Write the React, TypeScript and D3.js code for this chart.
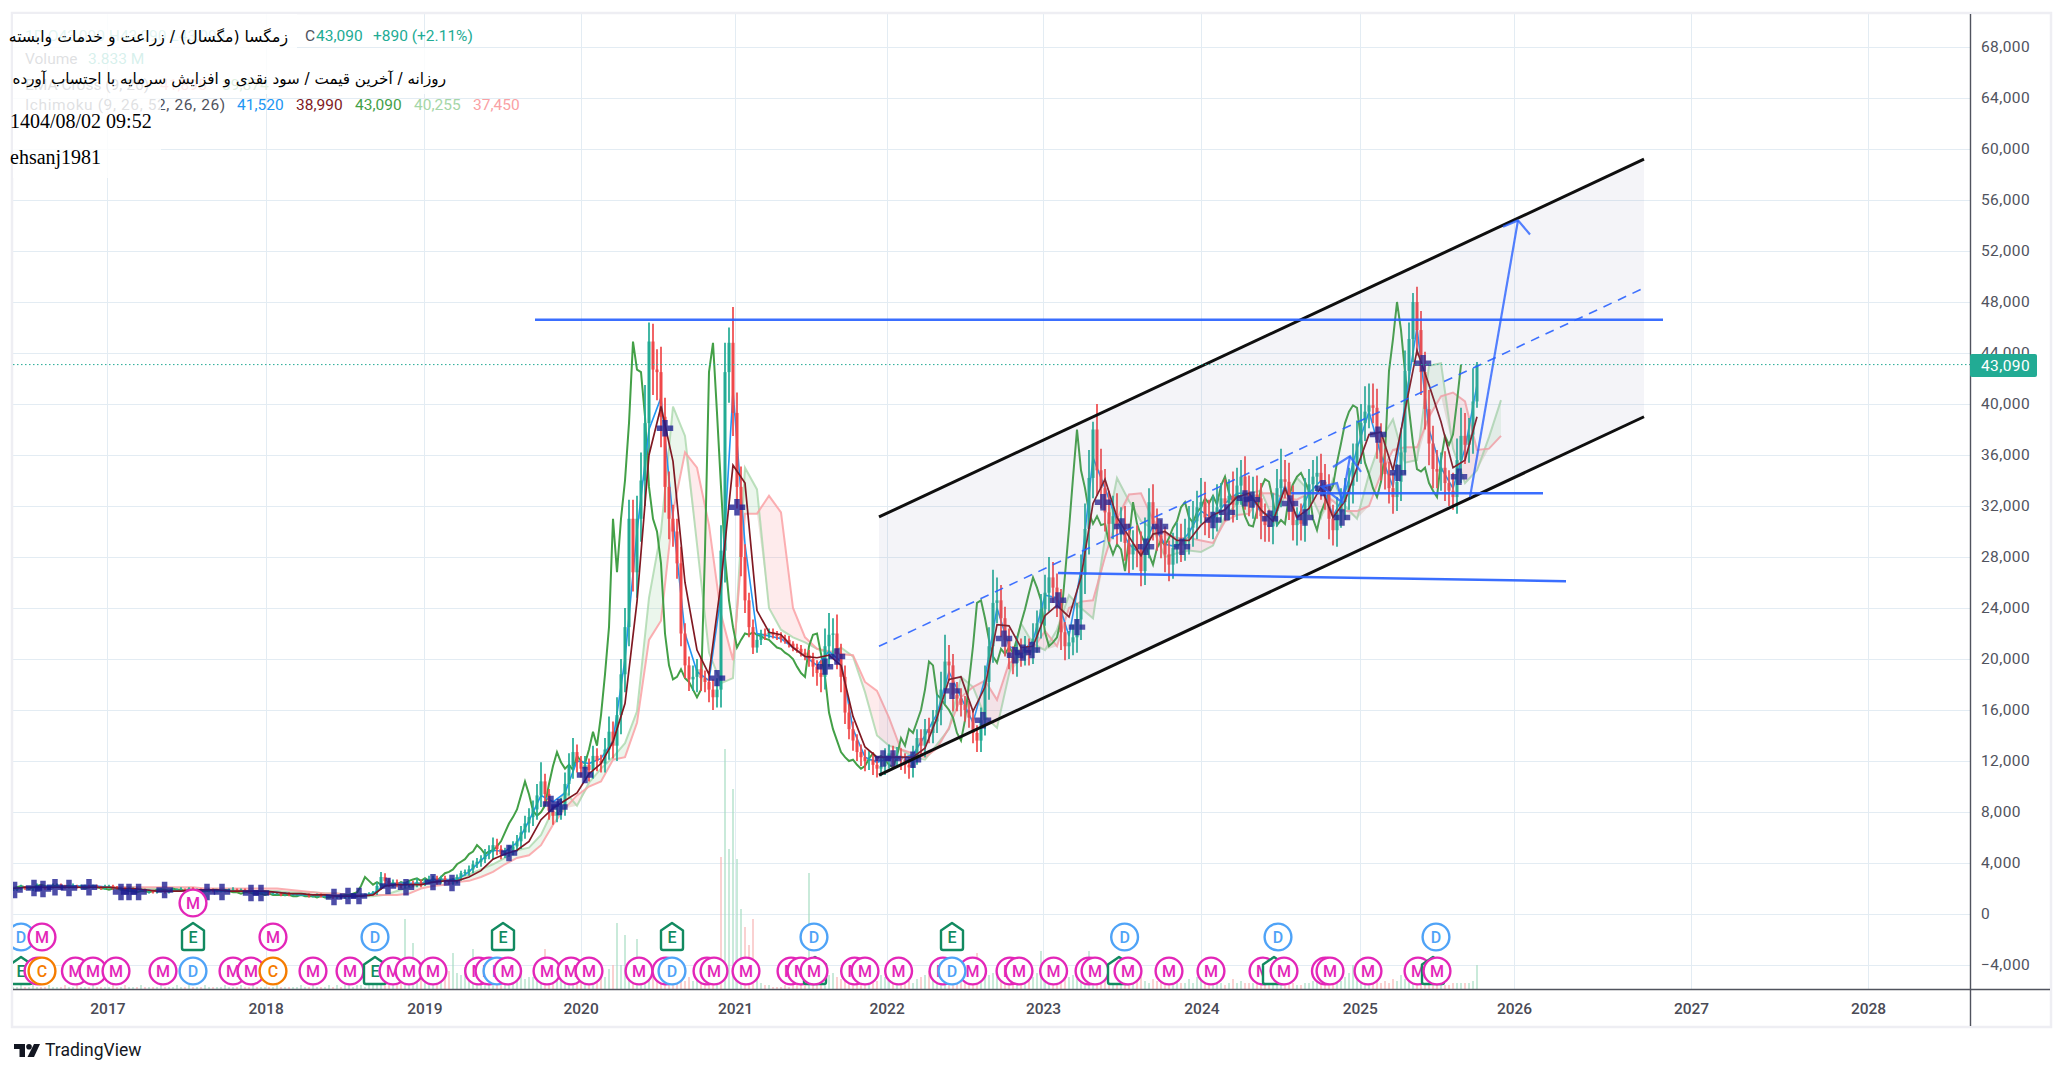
import { useEffect, useRef } from 'react';
import * as d3 from 'd3';

// prices are in thousands of rials, one bar is about 6 sessions
const closes = [
  1.9,2.0,2.1,2.0,2.0,2.1,2.2,2.1,2.0,2.1,
  2.2,2.3,2.2,2.1,2.2,2.2,2.1,2.2,2.2,2.1,
  2.2,2.1,2.0,2.1,2.2,2.1,2.0,2.0,1.9,2.0,
  2.0,1.9,1.9,1.8,1.8,1.7,1.8,1.8,1.7,1.8,
  1.9,1.9,1.9,1.8,2.0,1.9,1.9,1.8,1.8,1.9,
  1.8,1.8,1.8,1.8,1.9,1.9,1.8,1.9,1.8,1.7,
  1.7,1.6,1.7,1.7,1.6,1.6,1.6,1.5,1.6,1.5,
  1.5,1.5,1.5,1.5,1.4,1.4,1.5,1.4,1.4,1.4,
  1.3,1.4,1.3,1.3,1.4,1.4,1.4,1.5,1.5,1.6,
  1.7,2.2,2.9,2.6,2.3,2.5,2.3,2.2,2.3,2.4,
  2.3,2.5,2.4,2.6,2.7,2.8,2.6,2.8,2.6,2.5,
  2.6,2.9,3.2,3.3,3.5,3.9,4.1,4.3,4.7,4.9,
  5.4,5.1,4.7,4.9,5.0,5.3,5.7,6.4,7.1,7.6,
  8.2,9.3,10.4,9.4,8.1,7.7,8.0,8.5,10.2,11.6,
  12.7,11.9,11.4,11.7,11.3,12.4,12.0,11.8,12.9,14.3,
  13.2,15.6,18.8,22.5,31.0,26.8,31.0,34.0,38.5,44.9,
  42.7,42.5,39.0,33.5,31.0,30.0,27.5,22.0,19.5,18.4,
  18.6,19.2,18.5,18.2,17.6,17.0,17.6,28.5,42.5,44.8,
  39.3,33.5,28.0,24.6,22.5,20.9,21.5,22.0,21.9,22.1,
  21.9,21.8,21.6,21.5,21.2,20.9,20.8,20.5,20.3,20.0,
  19.4,18.9,18.6,21.0,21.9,22.0,20.4,18.6,15.8,14.5,
  13.6,12.7,12.3,12.0,12.1,11.7,11.4,11.6,12.2,12.6,
  12.2,12.4,12.1,11.7,11.5,12.4,13.8,13.2,14.5,14.2,
  15.1,16.0,17.6,19.8,19.5,17.2,16.9,16.4,16.0,15.4,
  14.2,13.6,15.2,18.2,21.0,24.4,24.6,23.2,21.5,20.2,
  19.7,20.8,20.4,20.9,20.5,21.6,22.8,23.9,25.2,26.4,
  25.6,24.6,22.1,21.0,21.3,21.7,23.1,26.6,30.2,34.2,
  38.0,34.8,33.4,31.5,30.6,31.2,30.5,30.6,29.1,28.2,
  29.0,28.6,26.9,29.4,32.3,30.6,29.7,29.1,28.2,27.4,
  28.7,29.3,28.9,29.5,30.3,30.8,31.9,32.3,31.1,30.7,
  31.5,31.9,32.6,32.2,32.8,32.1,33.6,34.3,33.0,32.4,
  32.9,32.6,31.2,30.5,30.4,31.6,33.4,34.1,33.9,32.4,
  30.5,30.9,30.6,32.8,33.7,34.3,34.6,33.9,33.2,31.0,
  30.1,31.5,32.3,33.0,33.6,35.4,36.9,38.5,39.4,39.9,
  39.7,37.2,35.4,34.5,33.4,32.7,33.9,36.2,42.6,45.1,
  48.0,45.8,42.5,39.6,36.9,34.9,34.7,35.0,33.8,33.2,
  32.7,35.6,37.5,36.8,37.6,40.2,43.09,
];

const wickUp = [
  .1,.1,.2,.1,.1,.1,.2,.1,.1,.1,
  .2,.1,.1,.1,.1,.2,.1,.1,.1,.1,
  .1,.1,.1,.2,.1,.1,.1,.1,.1,.1,
  .1,.1,.1,.1,.1,.1,.1,.2,.1,.1,
  .1,.1,.2,.1,.1,.1,.1,.1,.1,.1,
  .1,.1,.1,.1,.1,.2,.1,.1,.1,.1,
  .1,.1,.1,.1,.1,.1,.1,.1,.1,.1,
  .1,.1,.1,.1,.1,.1,.1,.1,.1,.1,
  .1,.1,.1,.1,.1,.1,.1,.1,.1,.1,
  .1,.3,.4,.3,.2,.2,.2,.1,.2,.2,
  .2,.3,.2,.2,.3,.2,.2,.2,.2,.1,
  .2,.2,.2,.2,.3,.3,.3,.3,.4,.5,
  .6,.5,.3,.3,.4,.4,.5,.5,.6,.7,
  .7,.9,1.5,.6,.4,.4,.5,.6,.9,1.0,
  1.1,.6,.5,.7,.5,.8,.6,.5,.9,1.2,
  .8,1.4,1.2,1.5,1.5,1.5,1.8,2.2,3.0,1.5,
  1.4,1.6,2.0,1.5,1.2,1.1,1.0,1.3,.8,.7,
  .9,.8,.9,.6,.8,.8,.9,2.0,2.3,1.2,
  2.8,1.6,1.6,1.0,.6,.6,.4,.3,.4,.3,
  .3,.3,.3,.3,.3,.2,.3,.3,.3,.4,
  .5,.5,1.0,1.4,1.7,1.2,1.5,.8,.9,.7,
  .6,.5,.6,.6,.7,.6,.6,.7,.8,.7,
  .6,.7,.6,.5,.6,.8,.7,.7,.8,.9,
  .9,1.2,1.4,2.1,1.3,.9,1.0,.8,.7,.7,
  .6,.6,1.0,1.3,1.5,2.6,1.8,1.2,.9,.9,
  .8,1.0,.8,.9,.7,1.2,1.0,1.2,1.4,1.6,
  1.2,1.1,.9,.8,.9,1.0,1.3,1.6,2.0,2.2,
  .6,2.0,1.7,1.5,1.7,1.6,1.8,1.3,1.4,1.5,
  1.1,1.5,1.4,1.7,1.1,1.4,1.2,1.2,1.3,1.1,
  1.2,1.4,1.3,1.5,1.7,1.6,1.3,1.9,1.6,1.4,
  1.3,1.8,1.2,1.5,1.3,1.9,1.4,1.3,1.6,1.4,
  1.4,1.5,1.2,1.0,1.2,1.4,1.5,2.4,1.5,1.5,
  1.2,1.0,1.3,1.4,1.2,1.3,1.3,1.5,1.4,1.3,
  1.1,1.2,1.1,1.2,1.4,1.5,1.8,1.5,2.0,1.7,
  1.7,1.5,1.3,1.1,1.0,1.2,1.4,1.9,1.6,1.3,
  .7,1.2,1.5,1.6,1.5,1.4,1.5,1.2,1.3,1.0,
  1.4,1.7,2.2,1.8,1.3,2.6,.2,
];

const wickDown = [
  .1,.1,.1,.1,.1,.2,.1,.1,.1,.1,
  .1,.1,.2,.1,.1,.1,.1,.1,.1,.1,
  .1,.1,.1,.1,.1,.2,.1,.1,.1,.1,
  .1,.1,.1,.1,.2,.1,.1,.1,.1,.1,
  .1,.1,.1,.1,.1,.1,.2,.1,.1,.1,
  .1,.1,.1,.1,.1,.1,.1,.1,.1,.1,
  .1,.1,.1,.1,.1,.1,.1,.1,.1,.1,
  .1,.1,.1,.1,.1,.1,.1,.1,.1,.1,
  .1,.1,.1,.1,.1,.1,.1,.1,.1,.1,
  .1,.2,.3,.3,.2,.2,.2,.2,.2,.2,
  .2,.2,.3,.2,.2,.2,.3,.2,.2,.2,
  .2,.2,.3,.2,.3,.3,.3,.4,.3,.4,
  .6,.5,.4,.3,.4,.4,.4,.6,.5,.7,
  .7,.8,.9,.8,.7,.7,.5,.6,.8,.9,
  1.0,.8,.7,.8,.9,.7,.8,.7,.7,.8,
  1.0,1.2,1.5,1.4,1.5,1.5,2.0,1.8,2.0,2.5,
  2.0,2.2,2.4,2.0,1.6,1.2,1.2,1.0,1.0,.9,
  .9,1.2,1.0,.8,1.0,1.0,.8,1.4,2.5,2.4,
  1.8,1.7,1.5,1.0,.8,.5,.4,.4,.4,.3,
  .3,.3,.3,.3,.3,.3,.3,.3,.4,.6,
  .8,1.0,1.2,1.0,1.6,1.8,1.2,1.2,.9,.8,
  .8,.7,.7,.8,.7,.8,.7,.6,.7,.8,
  .7,.7,.8,.7,.9,.8,.7,.8,.9,.8,
  .8,.9,1.2,1.1,1.2,1.3,1.0,.9,.9,.8,
  .8,.9,.9,1.2,1.4,1.3,1.6,1.5,1.3,1.0,
  .9,1.1,1.0,.9,1.0,.9,1.1,1.2,1.3,1.5,
  1.2,1.3,1.4,1.1,1.0,1.0,1.2,1.6,1.5,2.0,
  1.6,2.0,1.6,1.5,1.4,1.2,1.5,1.3,1.4,1.5,
  1.2,1.4,1.2,1.1,1.5,1.3,1.2,1.2,1.4,1.3,
  1.1,1.2,1.3,1.2,1.3,1.5,1.4,1.3,1.4,1.2,
  1.3,1.5,1.2,1.4,1.3,1.4,1.2,1.5,1.3,1.2,
  1.4,1.6,1.8,1.3,1.2,1.4,1.2,1.5,1.3,1.5,
  1.2,1.6,1.3,1.4,1.5,1.3,1.2,1.4,1.5,1.6,
  1.2,1.3,1.2,1.4,1.3,1.4,1.5,1.6,1.4,1.3,
  1.2,1.5,1.4,1.2,1.2,1.3,1.1,1.5,1.7,1.5,
  1.8,2.0,1.8,1.6,1.7,1.5,1.3,1.5,1.4,1.2,
  1.0,1.3,1.8,1.5,1.4,1.5,.5,
];

const volumes = [
  1,1,2,1,1,2,1,1,1,2,
  1,1,1,2,1,1,2,1,1,1,
  2,1,1,1,1,2,1,1,2,1,
  1,1,2,1,1,1,1,2,1,1,
  1,2,1,1,2,1,1,1,2,1,
  1,1,1,2,1,1,1,2,1,1,
  2,1,1,1,1,1,2,1,1,1,
  1,1,2,1,1,2,1,1,1,2,
  1,2,1,2,2,1,2,2,1,2,
  2,2,3,2,2,3,3,4,35,8,
  23,9,6,5,7,5,8,5,7,9,
  18,8,7,11,9,20,8,6,12,7,
  8,6,5,7,5,9,7,8,5,6,
  6,4,10,20,8,5,7,5,6,4,
  5,8,5,7,5,4,6,7,6,10,
  12,33,12,27,10,8,25,13,8,5,
  8,6,9,6,5,7,6,5,4,6,
  4,5,4,3,5,6,8,66,120,70,
  100,65,40,31,22,35,5,3,2,2,
  1,1,1,2,1,2,2,3,6,58,
  14,8,9,10,7,8,6,5,7,9,
  5,6,4,5,6,5,4,7,6,5,
  4,5,4,3,4,3,5,6,7,9,
  10,13,15,12,9,10,8,7,6,9,
  11,18,14,9,7,8,6,5,7,5,
  6,5,7,5,4,6,8,19,12,8,
  7,6,5,8,6,7,5,9,14,19,
  16,9,7,6,5,7,5,4,6,5,
  4,5,6,4,3,5,4,5,3,4,
  3,4,3,3,5,3,6,8,4,3,
  3,5,3,2,3,5,3,4,3,3,
  3,4,3,3,2,3,2,3,3,2,
  3,2,2,3,3,4,5,4,3,5,
  6,5,4,6,8,12,7,5,6,7,
  5,4,3,4,3,5,4,7,5,6,
  5,4,3,3,4,3,4,3,2,2,
  3,3,3,3,3,4,12,
];
// bars whose volume colour differs from the close-to-close direction
const volumeGreenBars = [100,180,181,182,199];
const volumeRedBars = [177,183,185];

// ichimoku lines, one value every 3 bars
const tenkan = [
  2.0,2.1,2.1,2.2,2.1,2.2,2.2,2.2,2.1,2.0,1.9,1.9,1.8,1.8,1.8,1.9,1.9,1.8,1.8,1.8,
  1.8,1.7,1.7,1.6,1.5,1.5,1.4,1.4,1.4,1.4,1.6,2.3,2.4,2.4,2.4,
  2.7,2.7,2.7,3.3,4.2,5.0,4.9,5.6,7.3,9.3,8.8,9.5,12.0,11.8,12.2,13.6,20,30,38,40.5,
  31,22,19,18.3,25,41,29,22,21.8,21.6,20.9,20.2,19.5,20.6,19.8,14.5,12.3,11.9,12.2,12.2,
  12.5,14,15.7,19,17,15,18.5,24,21,20.5,21.4,25,24.8,21.8,27,35.8,33.4,30.8,29,28.2,
  30.5,29,28.8,29.9,31.6,31,32.2,33,33,31.5,31.2,33.6,31,33,34,31.2,33,36.5,39.4,36,
  33.5,40,46,38,35,33.4,36.5,41.5,
];
const kijun = [
  2.0,2.1,2.1,2.1,2.1,2.1,2.1,2.1,2.1,2.0,2.0,1.9,1.8,1.8,1.8,1.9,1.9,1.9,1.8,1.8,
  1.8,1.8,1.7,1.6,1.6,1.5,1.5,1.4,1.4,1.4,1.5,2.2,2.3,2.3,2.3,
  2.5,2.6,2.6,2.9,3.4,4.3,4.7,5.0,5.7,7.4,8.3,8.9,9.5,11,11.8,13.5,16.5,24.5,36,39.8,
  35.5,26,20.7,18.8,26,35.2,33.8,23.8,22.1,21.9,20.9,20.2,20.1,20.3,19.5,15.5,13.1,12.3,12.3,12.3,
  12.3,13.0,15.4,18.4,18.6,15.9,17.8,22.7,22.6,20.9,21,23.4,24.2,23.3,26.4,32.2,34.1,31.1,29.6,28.1,
  29.8,30,29.3,29.3,30.5,31.3,31.7,32.7,33,31.7,30.8,33.4,31.1,31.8,33.5,31.1,32.4,35,37.6,37.8,
  34.8,39.5,44.2,41.5,38.6,35,35.6,39.0,
];
const spanA = [
  2.0,2.0,2.1,2.1,2.1,2.1,2.1,2.1,2.1,2.1,2.1,2.0,2.0,1.9,1.9,1.9,1.9,1.9,1.9,1.8,
  1.8,1.8,1.8,1.7,1.7,1.7,1.6,1.6,1.5,1.4,1.4,1.5,1.8,2.1,2.3,
  2.5,2.6,2.8,3.1,3.5,3.9,4.4,5.0,5.2,6.2,8.2,9.6,8.5,10.3,11.4,12.3,13.4,15.9,24.8,30,
  39.8,37.5,29,20.5,18.1,18.5,35,33.3,24,22.3,21.7,21.3,20.8,20.5,20.9,20.2,17.4,14,13.2,12.9,
  12.3,12.1,13.3,14.5,18.6,17.8,15.5,14.6,18.8,22.8,21.2,20.7,22.3,25.0,24.0,23.2,29.5,34.2,32.4,30.8,
  30.2,28.0,28.3,28.5,28.4,28.9,31.2,32.2,33.0,33.2,31.0,32.8,34.2,33.2,31.1,34.1,32,31,34.5,37.2,
  38.8,35.4,35.6,43,43.2,36.5,33.8,34.8,37.4,40.3,
];
const spanB = [
  2.1,2.1,2.1,2.1,2.1,2.1,2.1,2.1,2.1,2.1,2.1,2.1,2.1,2.1,2.1,2.1,2.0,2.0,2.0,2.0,
  2.0,2.0,2.0,1.9,1.8,1.7,1.6,1.6,1.5,1.5,1.5,1.5,1.5,1.6,2.0,
  2.2,2.3,2.5,2.6,2.9,3.3,3.9,4.4,4.6,5.4,7,8.3,9.3,10,10.4,12.1,12.3,15,21.5,23,
  31.5,36.2,35,30.5,23.5,19.9,31.4,31.4,32.8,31.5,24,21.7,20.8,20.6,20.4,20.3,18.2,17.5,15.4,12.9,
  12.6,12.3,13,14.6,17,17.8,18.3,16.8,19.7,20,20.8,22.2,21,24,24.5,24.6,28,31,32.9,33,
  30.9,29.8,29.5,29.5,29.3,29.1,30.8,31.3,31.4,33,33,32.6,32.5,33,33.1,32.4,31.6,31.6,32,34.5,
  36.4,36.6,36.6,39,40.6,40.9,40.2,36.4,36.5,37.5,
];
const indicatorStep = 3;
const chikouShift = 4;

// dark blue plus marks
const crossBars = [
  0.4,5.25,7.5,10.5,14,19,27,29,31.4,37.9,48.5,52.25,59.5,62,80.25,83.75,86.5,93.75,98.25,105,
  109.75,124,134.5,136.6,143,163,176,181,203,206,217.5,220,225,234.75,242.5,247.75,250.5,252.5,254.75,261.25,
  266,272.5,277.25,283.25,286.75,292.25,300,303.5,308,309.75,314.25,319.25,323,327.5,332.25,341.25,346.25,352.5,361.5,
];
const crossValues = [
  1.88,2.04,1.96,2.1,2.04,2.1,1.73,1.73,1.73,1.88,1.73,1.73,1.65,1.65,1.33,1.41,1.41,2.2,2.1,2.5,
  2.43,4.78,8.63,8.39,10.9,38.1,18.5,31.9,19.4,20.2,12.2,12.2,12.1,17.5,15.2,21.6,20.3,20.5,20.7,24.6,
  22.5,32.3,30.4,28.8,30.4,28.8,30.9,31.5,32.6,32.5,31,32.2,31.1,33.4,31.1,37.6,34.6,43.2,34.3,
];

// events: M dividend-like, D, C, E earnings
const lowEvents = [
  ['E',2],['M',6.25],['C',7.25],['M',15.6],['M',20],['M',25.75],['M',37.5],['D',45],['M',55],['M',59.5],['C',65],['M',75],
  ['M',84.25],['E',90.5],['M',95],['M',99],['M',105],['M',116.4],['M',119],['D',121],['M',123.65],['M',133.5],['M',139.5],['M',144],
  ['M',156.5],['M',163.25],['D',164.75],['M',173.5],['M',175.25],['M',183.25],['M',194.5],['M',197],['E',200.5],['M',200.25],['M',210.4],['M',213],
  ['M',221.4],['M',232.5],['M',239.9],['D',234.75],['M',249.25],['M',251.5],['M',260.15],['M',269],['M',270.5],['E',276.5],['M',278.75],['M',289],
  ['M',299.5],['M',312.5],['E',315.25],['M',317.75],['M',328.1],['M',329.25],['M',338.75],['M',351.25],['E',355],['M',356],
];
const midEvents = [
  ['D',2],['M',7.25],['E',45],['M',65],['D',90.5],['E',122.5],['E',164.75],['D',200.25],['E',234.75],['D',277.9],['D',316.25],['D',355.75],
];
const highEvents = [['M',45]];
const eventColors = { M: '#e326b8', D: '#4fa3f7', C: '#f57c00', E: '#128a60' };

const priceTicks = d3.range(-4, 69, 4);
const yearLabels = [2017,2018,2019,2020,2021,2022,2023,2024,2025,2026,2027,2028];
const yearBars = [23.6,63.15,102.85,141.9,180.5,218.4,257.5,297.1,336.7,375.25,419.5,463.75];

// drawings on the chart as [bar, price]
const channelTop = [[216.5,31.14],[407.75,59.2]];
const channelMid = [[216.5,21.0],[407.75,49.1]];
const channelBottom = [[216.5,10.9],[407.75,39.0]];
const resistanceLine = [[130.5,46.6],[412.5,46.6]];
const supportLine = [[261.25,26.75],[388.25,26.1]];
const neckLine = [[319.5,33.0],[382.5,33.0]];
const arrowLine = [[364.25,32.7],[376.25,54.4]];
const arrowHead = [[372.5,53.9],[376.25,54.4],[379.25,53.3]];
const patternA = [[330,35.06],[334.25,35.9],[337,34.67]];
const patternB = [[334.25,35.9],[332.25,32.3],[327.25,33.5],[331,33.8],[332.5,32.2]];

const lastPrice = 43.09;
const ichimokuLegend = [['41,520','#2196f3'],['38,990','#801922'],['43,090','#43a047'],['40,255','#a5d6a7'],['37,450','#faa1a4']];

const App = () => {
  const svgRef = useRef<SVGSVGElement>(null);

  useEffect(() => {
    const svg = d3.select(svgRef.current);
    svg.selectAll('*').remove();

    const width = 2065;
    const height = 1075;
    const left = 13;
    const axisX = 1970;
    const top = 14;
    const axisY = 989;
    const frameRight = 2050;
    const frameBottom = 1026;
    const uiFont = 'Roboto, "Noto Sans", sans-serif';

    svg.attr('width', width).attr('height', height);

    const x = d3.scaleLinear().domain([0, 489.25]).range([left, axisX]);
    const y = d3.scaleLinear().domain([-4, 68]).range([965, 47]);
    const yVol = d3.scaleLinear().domain([0, 120]).range([axisY, 749]);

    svg.append('rect').attr('width', width).attr('height', height).attr('fill', '#fff');

    // grid
    const grid = svg.append('g').attr('stroke', '#e3ecf3').attr('stroke-width', 1);
    grid.selectAll('.h').data(priceTicks).join('line')
      .attr('x1', left).attr('x2', axisX)
      .attr('y1', d => Math.round(y(d)) + 0.5).attr('y2', d => Math.round(y(d)) + 0.5);
    grid.selectAll('.v').data(yearBars).join('line')
      .attr('y1', top).attr('y2', axisY)
      .attr('x1', d => Math.round(x(d)) + 0.5).attr('x2', d => Math.round(x(d)) + 0.5);

    // frame
    svg.append('rect')
      .attr('x', left - 1).attr('y', top - 1)
      .attr('width', frameRight - left + 2).attr('height', frameBottom - top + 2)
      .attr('fill', 'none').attr('stroke', '#eeeef3').attr('stroke-width', 2.5);

    svg.append('defs').append('clipPath').attr('id', 'plot')
      .append('rect').attr('x', left).attr('y', top).attr('width', axisX - left).attr('height', axisY - top);
    const plot = svg.append('g').attr('clip-path', 'url(#plot)');

    // volume
    const volumeUp = (i: number) => {
      if (volumeGreenBars.includes(i)) return true;
      if (volumeRedBars.includes(i)) return false;
      return i === 0 || closes[i] >= closes[i - 1];
    };
    plot.append('g').selectAll('rect').data(volumes).join('rect')
      .attr('x', (_, i) => x(i) - 0.8)
      .attr('width', 1.6)
      .attr('y', d => yVol(d))
      .attr('height', d => axisY - yVol(d))
      .attr('fill', (_, i) => (volumeUp(i) ? '#a6dcc1' : '#f6b2b2'))
      .attr('opacity', 0.75);

    // ichimoku cloud
    const cloudIdx = spanA.map((_, i) => i);
    const barOf = (i: number) => i * indicatorStep;
    const greenArea = d3.area<number>().x(i => x(barOf(i)))
      .y0(i => y(spanA[i])).y1(i => y(Math.min(spanA[i], spanB[i])));
    const redArea = d3.area<number>().x(i => x(barOf(i)))
      .y0(i => y(spanB[i])).y1(i => y(Math.min(spanA[i], spanB[i])));
    plot.append('path').attr('d', greenArea(cloudIdx)).attr('fill', '#a5d6a7').attr('opacity', 0.22);
    plot.append('path').attr('d', redArea(cloudIdx)).attr('fill', '#f77c80').attr('opacity', 0.15);

    const indicatorLine = d3.line<number>().x((_, i) => x(barOf(i))).y(d => y(d));
    plot.append('path').datum(spanA).attr('d', indicatorLine).attr('fill', 'none').attr('stroke', '#a5d6a7').attr('stroke-width', 2).attr('opacity', 0.75);
    plot.append('path').datum(spanB).attr('d', indicatorLine).attr('fill', 'none').attr('stroke', '#faa1a4').attr('stroke-width', 2).attr('opacity', 0.85);

    // chikou is the close drawn back 26 sessions
    const chikouLine = d3.line<number>().x((_, i) => x(i - chikouShift)).y(d => y(d));
    plot.append('path').datum(closes).attr('d', chikouLine).attr('fill', 'none').attr('stroke', '#43a047').attr('stroke-width', 2);

    plot.append('path').datum(tenkan).attr('d', indicatorLine).attr('fill', 'none').attr('stroke', '#2196f3').attr('stroke-width', 1.6);

    // candles
    const candles = plot.append('g');
    closes.forEach((c, i) => {
      const open = i === 0 ? c : closes[i - 1];
      const color = c >= open ? '#22ab94' : '#f0484a';
      const hi = Math.max(open, c) + wickUp[i];
      const lo = Math.min(open, c) - wickDown[i];
      candles.append('line')
        .attr('x1', x(i)).attr('x2', x(i)).attr('y1', y(hi)).attr('y2', y(lo))
        .attr('stroke', color).attr('stroke-width', 1.7);
      candles.append('rect')
        .attr('x', x(i) - 1.5).attr('width', 3)
        .attr('y', y(Math.max(open, c)))
        .attr('height', Math.max(1, Math.abs(y(open) - y(c))))
        .attr('fill', color);
    });

    plot.append('path').datum(kijun).attr('d', indicatorLine)
      .attr('fill', 'none').attr('stroke', '#801922').attr('stroke-width', 1.7);

    // plus marks
    const crossPath = d3.symbol(d3.symbolCross, 150)();
    plot.append('g').selectAll('path').data(crossBars).join('path')
      .attr('d', crossPath)
      .attr('transform', (d, i) => `translate(${x(d)},${y(crossValues[i])})`)
      .attr('fill', '#1b1b8f').attr('opacity', 0.78);

    // last price line
    svg.append('line')
      .attr('x1', left).attr('x2', axisX).attr('y1', y(lastPrice)).attr('y2', y(lastPrice))
      .attr('stroke', '#22ab94').attr('stroke-width', 1).attr('stroke-dasharray', '1.5,2.5');

    // channel and hand-drawn lines
    const draw = d3.line<number[]>().x(d => x(d[0])).y(d => y(d[1]));
    plot.append('path').attr('d', draw([...channelTop, ...[...channelBottom].reverse()]) + 'Z').attr('fill', '#9497b8').attr('opacity', 0.1);
    plot.append('path').attr('d', draw(channelMid)).attr('fill', 'none').attr('stroke', '#2962ff').attr('stroke-width', 1.6).attr('stroke-dasharray', '9,7').attr('opacity', 0.9);
    [channelTop, channelBottom].forEach(l => {
      plot.append('path').attr('d', draw(l)).attr('fill', 'none').attr('stroke', '#0f0f0f').attr('stroke-width', 3);
    });
    [resistanceLine, supportLine, neckLine].forEach(l => {
      plot.append('path').attr('d', draw(l)).attr('fill', 'none').attr('stroke', '#2962ff').attr('stroke-width', 2.5).attr('opacity', 0.92);
    });
    [arrowLine, arrowHead, patternA, patternB].forEach(l => {
      plot.append('path').attr('d', draw(l)).attr('fill', 'none').attr('stroke', '#2962ff').attr('stroke-width', 2.2).attr('opacity', 0.8);
    });

    // event badges
    const drawEvents = (list: any[], rowY: number) => {
      const g = plot.append('g').selectAll('g').data(list).join('g')
        .attr('transform', d => `translate(${x(d[1])},${rowY})`);
      g.each(function (d) {
        const sel = d3.select(this);
        const color = eventColors[d[0]];
        if (d[0] === 'E') {
          sel.append('path')
            .attr('d', 'M0,-14 L11,-6.5 L11,11 Q11,13 9,13 L-9,13 Q-11,13 -11,11 L-11,-6.5 Z')
            .attr('fill', '#fff').attr('stroke', color).attr('stroke-width', 2.4).attr('stroke-linejoin', 'round');
        } else {
          sel.append('ellipse').attr('rx', 13.4).attr('ry', 13.4)
            .attr('fill', '#fff').attr('stroke', color).attr('stroke-width', 2.4);
        }
        sel.append('text').text(d[0])
          .attr('text-anchor', 'middle').attr('y', 6)
          .attr('fill', color)
          .attr('font-family', uiFont).attr('font-weight', 500).attr('font-size', 16);
      });
    };
    drawEvents(lowEvents, 971);
    drawEvents(midEvents, 937);
    drawEvents(highEvents, 903);

    // axes
    svg.append('line').attr('x1', left).attr('x2', frameRight).attr('y1', axisY + 0.5).attr('y2', axisY + 0.5).attr('stroke', '#50535e').attr('stroke-width', 1.4);
    svg.append('line').attr('x1', axisX + 0.5).attr('x2', axisX + 0.5).attr('y1', top).attr('y2', frameBottom).attr('stroke', '#50535e').attr('stroke-width', 1.4);

    const yAxis = svg.append('g').attr('transform', `translate(${axisX},0)`)
      .call(d3.axisRight(y).tickValues(priceTicks).tickSize(0).tickPadding(11).tickFormat(d => d3.format(',')(+d * 1000)));
    yAxis.select('.domain').remove();
    yAxis.selectAll('text').attr('font-family', uiFont).attr('font-size', 15.5).attr('fill', '#50535e').attr('letter-spacing', 0.4);

    const xAxis = svg.append('g').attr('transform', `translate(0,${axisY})`)
      .call(d3.axisBottom(x).tickValues(yearBars).tickSize(0).tickPadding(14).tickFormat((_, i) => String(yearLabels[i])));
    xAxis.select('.domain').remove();
    xAxis.selectAll('text').attr('font-family', uiFont).attr('font-size', 15.5).attr('font-weight', 500).attr('fill', '#4a4a55');

    // last price tag
    svg.append('rect').attr('x', axisX).attr('y', 354).attr('width', 67).attr('height', 23).attr('rx', 2).attr('fill', '#22ab94');
    svg.append('text').text(d3.format(',')(lastPrice * 1000))
      .attr('x', axisX + 11).attr('y', 371)
      .attr('fill', '#fff').attr('font-family', uiFont).attr('font-size', 15.5).attr('letter-spacing', 0.4);

    // legend rows under the pasted captions
    const legend = svg.append('g').attr('font-family', uiFont).attr('font-size', 15.5);
    legend.append('text').attr('x', 25).attr('y', 41).attr('fill', '#22ab94').attr('opacity', 0.9).text('1D  O43,090  H43,090  L43,090');
    legend.append('text').attr('x', 25).attr('y', 64).attr('fill', '#50535e').text('Volume');
    legend.append('text').attr('x', 88).attr('y', 64).attr('fill', '#22ab94').text('3.833 M');
    legend.append('text').attr('x', 25).attr('y', 90).attr('fill', '#50535e').text('EMA Cross (9, 26)');
    legend.append('text').attr('x', 160).attr('y', 90).attr('fill', '#f77c80').text('41,895');
    legend.append('text').attr('x', 222).attr('y', 90).attr('fill', '#43a047').text('39,874');
    legend.append('text').attr('x', 25).attr('y', 110).attr('fill', '#50535e').attr('letter-spacing', 0.6).text('Ichimoku (9, 26, 52, 26, 26)');
    ichimokuLegend.forEach((d, i) => {
      legend.append('text').attr('x', 237 + i * 59).attr('y', 110).attr('fill', d[1]).text(d[0]);
    });

    svg.append('rect').attr('x', left).attr('y', top).attr('width', 284).attr('height', 34).attr('fill', '#fff').attr('opacity', 0.86);
    svg.append('rect').attr('x', left).attr('y', 48).attr('width', 148).attr('height', 130).attr('fill', '#fff').attr('opacity', 0.82);
    svg.append('rect').attr('x', 161).attr('y', 48).attr('width', 290).attr('height', 46).attr('fill', '#fff').attr('opacity', 0.82);

    legend.append('text').attr('x', 305).attr('y', 41).attr('fill', '#50535e').text('C');
    legend.append('text').attr('x', 316).attr('y', 41).attr('fill', '#22ab94').text('43,090');
    legend.append('text').attr('x', 373).attr('y', 41).attr('fill', '#22ab94').text('+890 (+2.11%)');

    // captions pasted on top of the screenshot
    const captionFont = '"Liberation Serif", "DejaVu Serif", serif';
    const arabic = svg.append('g').attr('font-family', '"DejaVu Sans", sans-serif').attr('fill', '#000');
    arabic.append('text').attr('x', 288).attr('y', 42).attr('font-size', 15.7).attr('text-anchor', 'start').attr('direction', 'rtl')
      .text('زمگسا (مگسال) / زراعت و خدمات وابسته');
    arabic.append('text').attr('x', 446).attr('y', 84).attr('font-size', 15.2).attr('text-anchor', 'start').attr('direction', 'rtl')
      .text('روزانه / آخرین قیمت / سود نقدی و افزایش سرمایه با احتساب آورده');
    svg.append('text').attr('x', 10).attr('y', 128).attr('font-family', captionFont).attr('font-size', 20).attr('fill', '#000').text('1404/08/02 09:52');
    svg.append('text').attr('x', 10).attr('y', 164).attr('font-family', captionFont).attr('font-size', 20).attr('fill', '#000').text('ehsanj1981');

    // TradingView mark
    const logo = svg.append('g').attr('transform', 'translate(14,1044)').attr('fill', '#131722');
    logo.append('path').attr('d', 'M0 0H11V13H5.5V5H0Z');
    logo.append('circle').attr('cx', 15).attr('cy', 2.8).attr('r', 2.8);
    logo.append('path').attr('d', 'M20 0H26L20 13H13.5Z');
    svg.append('text').attr('x', 45).attr('y', 1056).attr('font-family', uiFont).attr('font-size', 17.5).attr('fill', '#131722').text('TradingView');
  }, []);

  return <svg ref={svgRef} style={{ position: 'absolute', left: 0, top: 0 }}></svg>;
};

export default App;
